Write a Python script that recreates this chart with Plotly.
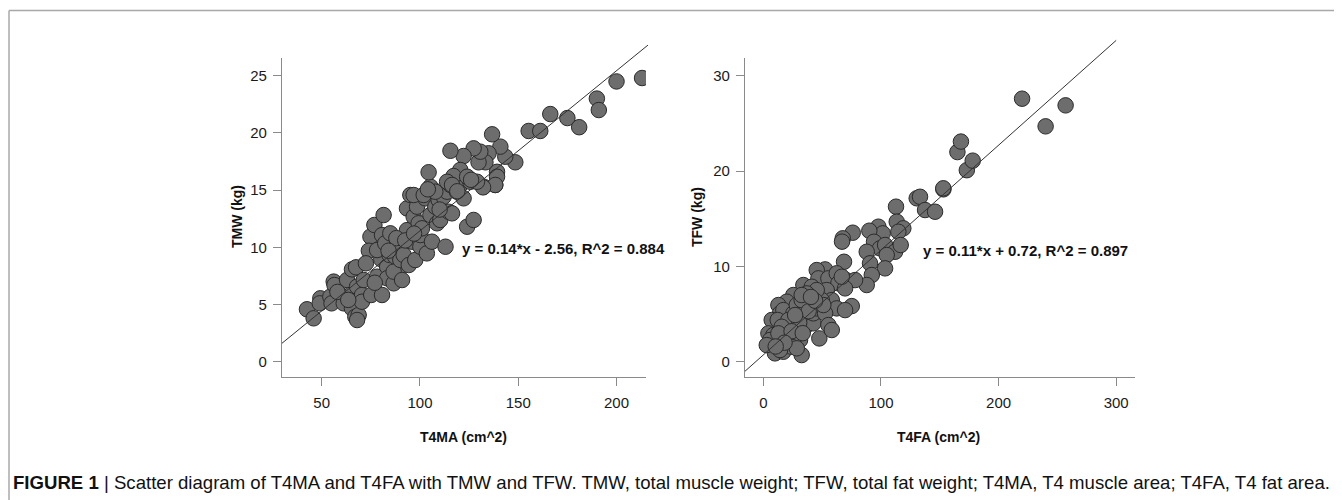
import plotly.graph_objects as go

# the page adds an 8px body margin, so the figure is 8px smaller and all page
# pixel positions below are shifted back by OFF
OFF = 8
W, H = 1342 - OFF, 500 - OFF

# left panel: T4MA vs TMW
t4ma = [42.5, 45.9, 49.3, 49.0, 54.4, 56.1, 56.5, 59.5, 55.0, 61.2, 65.4, 65.4, 67.1, 68.8, 68.0,
        62.9, 65.4, 67.5, 68.0, 70.5, 70.5, 71.4, 74.8, 74.0, 76.8, 78.2, 75.2, 80.7, 80.3, 78.2,
        80.7, 81.5, 82.3, 83.3, 83.3, 84.5, 84.9, 86.6, 87.4, 88.3, 89.1, 86.6, 90.0, 90.9, 91.7,
        93.4, 93.4, 94.3, 95.1, 95.9, 96.8, 97.6, 98.5, 99.3, 100.2, 100.2, 101.0, 102.7, 103.5, 105.3,
        106.1, 107.0, 107.8, 108.7, 109.5, 110.3, 112.0, 113.0, 113.8, 114.6, 115.5, 116.3, 118.8, 120.5, 122.2,
        124.0, 127.3, 125.6, 132.4, 138.3, 105.3, 166.3, 155.3, 161.2, 148.5, 143.4, 140.9, 139.2, 136.7, 134.9,
        133.3, 129.8, 130.7, 127.3, 122.2, 115.5, 104.4, 120.5, 117.1, 124.0, 139.2, 138.3, 132.1, 129.0, 113.8,
        116.3, 96.8, 101.9, 107.8, 104.0, 175.0, 181.0, 190.0, 191.0, 200.0, 213.0, 58.0, 72.5, 88.0, 92.5,
        97.0, 84.0, 77.0, 63.5, 110.0, 119.0, 126.0]
tmw = [4.58, 3.79, 5.54, 5.10, 5.68, 7.00, 6.70, 5.83, 5.10, 5.10, 5.97, 4.66, 3.93, 4.08, 3.64,
       7.14, 8.07, 8.25, 6.56, 5.83, 5.24, 7.14, 10.93, 9.70, 11.95, 7.43, 5.83, 5.83, 8.95, 9.76,
       11.07, 12.82, 10.35, 8.30, 7.29, 9.33, 11.22, 6.85, 9.18, 10.20, 8.02, 7.87, 8.89, 7.14, 9.33,
       11.50, 13.40, 8.45, 14.57, 10.49, 12.67, 8.89, 13.55, 12.10, 10.05, 11.07, 11.66, 14.28, 9.47, 12.82,
       10.49, 15.00, 13.55, 12.10, 14.13, 12.39, 14.42, 10.05, 14.86, 13.11, 15.45, 12.97, 14.86, 15.45, 14.28,
       11.80, 12.39, 15.73, 15.30, 15.45, 15.30, 21.65, 20.17, 20.17, 17.43, 17.92, 18.80, 16.60, 19.88, 18.22,
       17.43, 17.43, 18.36, 18.65, 17.98, 18.44, 16.56, 16.76, 16.23, 16.17, 16.17, 15.45, 15.24, 15.73, 15.73,
       15.45, 14.57, 14.57, 14.86, 15.07, 21.30, 20.50, 23.00, 22.00, 24.50, 24.80, 6.10, 8.60, 10.80, 10.60,
       11.20, 9.70, 6.90, 5.40, 13.30, 14.90, 15.90]

# right panel: T4FA vs TFW
t4fa = [153.1, 130.4, 133.2, 137.5, 146.0, 112.8, 113.4, 119.0, 114.8, 97.8, 101.5, 90.1, 94.1, 99.2, 103.5,
        112.0, 116.8, 104.9, 103.5, 87.9, 90.7, 92.2, 87.9, 76.0, 67.5, 66.9, 68.6, 52.5, 45.4, 46.8,
        55.3, 62.4, 63.8, 70.3, 78.0, 69.5, 66.7, 34.0, 41.2, 25.5, 48.8, 53.9, 58.2, 49.7, 62.4,
        75.2, 69.5, 19.9, 12.8, 14.2, 17.0, 7.1, 12.2, 4.3, 8.5, 9.9, 9.9, 18.5, 17.0, 22.7,
        22.7, 20.4, 28.4, 29.8, 25.5, 31.2, 26.8, 32.6, 35.5, 36.9, 42.5, 42.5, 35.5, 45.4, 47.6,
        52.5, 55.3, 58.2, 39.7, 28.4, 21.3, 15.6, 14.2, 24.1, 28.4, 15.6, 5.7, 2.9, 14.2, 12.8,
        34.0, 32.6, 51.0, 45.4, 36.9, 32.6, 153.0, 165.0, 168.0, 173.0, 178.0, 220.0, 240.0, 257.0, 30.5,
        38.5, 24.0, 44.0, 18.0, 10.5, 27.0, 33.5, 40.5]
tfw = [18.09, 17.15, 17.31, 15.92, 15.74, 16.27, 14.69, 14.00, 13.64, 14.17, 13.47, 13.75, 12.59, 11.90, 12.25,
       11.54, 12.25, 11.20, 9.80, 11.54, 10.33, 9.10, 8.05, 13.54, 12.95, 12.60, 10.49, 9.69, 9.62, 8.75,
       8.75, 9.28, 8.23, 8.57, 8.57, 7.70, 8.92, 8.05, 7.87, 7.00, 7.00, 7.52, 6.47, 6.47, 5.60,
       5.84, 5.42, 6.30, 5.95, 5.08, 5.42, 4.38, 4.38, 2.98, 2.80, 1.93, 0.88, 1.41, 1.05, 2.28,
       3.15, 3.67, 3.67, 4.72, 5.08, 2.28, 2.62, 0.70, 3.67, 4.38, 4.03, 5.08, 5.60, 5.60, 2.45,
       5.08, 3.85, 3.33, 6.13, 5.95, 4.38, 3.67, 2.80, 1.57, 1.41, 2.28, 2.28, 1.75, 1.23, 2.98,
       5.08, 6.47, 5.95, 7.52, 7.17, 7.00, 18.20, 22.00, 23.10, 20.10, 21.10, 27.60, 24.70, 26.90, 4.10,
       5.30, 3.20, 6.40, 2.00, 1.60, 4.90, 3.00, 6.80]

# regression lines: (slope, intercept, x start, x end)
fit_ma = (0.14, -2.56, 29.8, 216.0)
fit_fa = (0.11, 0.72, -15.6, 300.0)
eq_ma = 'y = 0.14*x - 2.56, R^2 = 0.884'
eq_fa = 'y = 0.11*x + 0.72, R^2 = 0.897'

caption = ('<b>FIGURE 1</b> | Scatter diagram of T4MA and T4FA with TMW and TFW. TMW, total muscle weight; '
           'TFW, total fat weight; T4MA, T4 muscle area; T4FA, T4 fat area.')

REG = 'Liberation Sans, Arial'


def px_x(p):
    return (p - OFF) / W


def px_y(p):
    return 1 - (p - OFF) / H


# page-pixel boxes of the two panels (left, right, top, bottom) and their data ranges
panels = [
    dict(box=(282, 646, 58, 377), xr=(29.8, 215.0), yr=(-1.34, 26.55), xt=[50, 100, 150, 200], yt=[0, 5, 10, 15, 20, 25],
         ext=(700, 22)),
    dict(box=(745, 1135, 58, 377), xr=(-15.6, 316.0), yr=(-1.6, 31.87), xt=[0, 100, 200, 300], yt=[0, 10, 20, 30],
         ext=(1160, 22)),
]

fig = go.Figure()

marker = dict(size=15.5, color='#6d6d6d', line=dict(color='#2b2b2b', width=1))
fig.add_trace(go.Scatter(x=t4ma, y=tmw, mode='markers', marker=marker, xaxis='x', yaxis='y', showlegend=False))
fig.add_trace(go.Scatter(x=t4fa, y=tfw, mode='markers', marker=marker, xaxis='x2', yaxis='y2', showlegend=False))

layout = dict(width=W, height=H, margin=dict(l=0, r=0, t=0, b=0),
              paper_bgcolor='white', plot_bgcolor='rgba(0,0,0,0)', showlegend=False)

for i, p in enumerate(panels):
    l, r, t, b = p['box']
    sx = (r - l) / (p['xr'][1] - p['xr'][0])
    sy = (b - t) / (p['yr'][1] - p['yr'][0])
    n = '' if i == 0 else '2'
    ax = dict(domain=[px_x(l), px_x(r)], range=list(p['xr']), tickvals=p['xt'],
              showline=True, linecolor='#8a8a8a', linewidth=1.3, showgrid=False, zeroline=False,
              ticks='outside', ticklen=8, tickcolor='#8a8a8a', tickwidth=1.2,
              tickfont=dict(family=REG, size=15, color='#1a1a1a'), ticklabelstandoff=4,
              anchor='y' + n)
    ay = dict(domain=[px_y(b), px_y(t)], range=list(p['yr']), tickvals=p['yt'],
              showline=True, linecolor='#8a8a8a', linewidth=1.3, showgrid=False, zeroline=False,
              ticks='outside', ticklen=8, tickcolor='#8a8a8a', tickwidth=1.2,
              tickfont=dict(family=REG, size=15, color='#1a1a1a'), ticklabelstandoff=3,
              anchor='x' + n)
    layout['xaxis' + n] = ax
    layout['yaxis' + n] = ay
    # overlay axes with the same scale but a larger box, so the fit line runs past the frame
    er, et = p['ext']
    k = str(i + 3)
    layout['xaxis' + k] = dict(domain=[px_x(l), px_x(er)],
                               range=[p['xr'][0], p['xr'][0] + (er - l) / sx],
                               visible=False, anchor='y' + k)
    layout['yaxis' + k] = dict(domain=[px_y(b), px_y(et)],
                               range=[p['yr'][0], p['yr'][0] + (b - et) / sy],
                               visible=False, anchor='x' + k)

for k, fit in zip(['3', '4'], [fit_ma, fit_fa]):
    m, c, x0, x1 = fit
    fig.add_trace(go.Scatter(x=[x0, x1], y=[m * x0 + c, m * x1 + c], mode='lines',
                             line=dict(color='#333333', width=1), xaxis='x' + k, yaxis='y' + k,
                             showlegend=False, hoverinfo='skip'))

fig.update_layout(**layout)

title_font = dict(family=REG, size=14, color='#111111')
ann = [
    dict(text='<b>TMW (kg)</b>', x=px_x(237), y=px_y(217), textangle=-90),
    dict(text='<b>TFW (kg)</b>', x=px_x(697), y=px_y(217), textangle=-90),
    dict(text='<b>T4MA (cm^2)</b>', x=px_x(463), y=px_y(437)),
    dict(text='<b>T4FA (cm^2)</b>', x=px_x(938), y=px_y(437)),
    dict(text='<b>' + eq_ma + '</b>', x=px_x(563), y=px_y(248), font=dict(family=REG, size=15, color='#111111')),
    dict(text='<b>' + eq_fa + '</b>', x=px_x(1025), y=px_y(250), font=dict(family=REG, size=15, color='#111111')),
]
for a in ann:
    a.setdefault('font', title_font)
    a.update(xref='paper', yref='paper', showarrow=False, xanchor='center', yanchor='middle')
    fig.add_annotation(**a)

fig.add_annotation(text=caption, xref='paper', yref='paper', x=px_x(11), y=px_y(482),
                   xanchor='left', yanchor='middle', showarrow=False,
                   font=dict(family=REG, size=18.6, color='#111111'))

# frame of the figure box
fig.add_shape(type='line', xref='paper', yref='paper', x0=px_x(9), x1=1, y0=px_y(10.5), y1=px_y(10.5),
              line=dict(color='#a8a8a8', width=1.5))
fig.add_shape(type='line', xref='paper', yref='paper', x0=px_x(9), x1=px_x(9), y0=px_y(10.5), y1=0,
              line=dict(color='#a8a8a8', width=1.5))

fig.write_html('out.html')
